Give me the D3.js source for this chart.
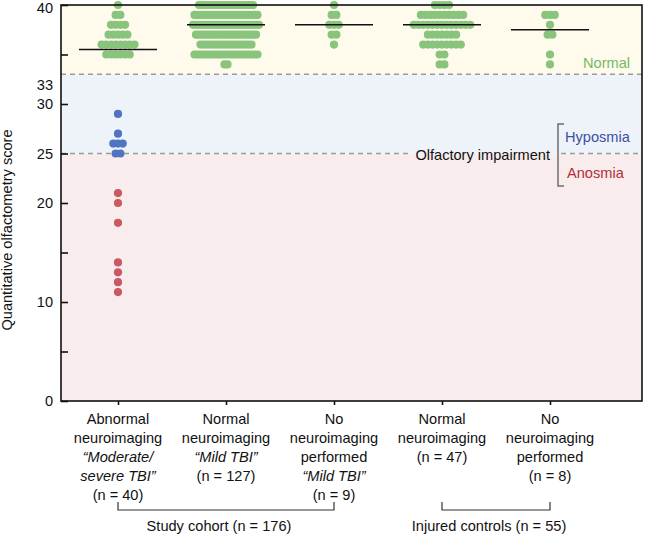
<!DOCTYPE html>
<html>
<head>
<meta charset="utf-8">
<script src="https://cdn.jsdelivr.net/npm/d3@7"></script>
<style>
  html, body { margin: 0; padding: 0; background: #ffffff; }
  svg { display: block; }
  text { font-family: "Liberation Sans", Arial, Helvetica, sans-serif; }
</style>
</head>
<body>
<svg id="chart" width="650" height="534"></svg>
<script>
// ---------------- data ----------------
const categories = ["abnormal", "normalMild", "noImagingMild", "controlsNormal", "controlsNoImaging"];

// [score, number of patients with that score]
const abnormalImaging   = [[40,1],[39,2],[38,4],[37,5],[36,8],[35,6],[29,1],[27,1],[26,3],[25,2],[21,1],[20,1],[18,1],[14,1],[13,1],[12,1],[11,1]];
const normalImagingMild = [[40,19],[39,22],[38,23],[37,21],[36,18],[35,22],[34,2]];
const noImagingMild     = [[40,1],[39,2],[38,3],[37,2],[36,1]];
const controlsNormal    = [[40,4],[39,10],[38,13],[37,7],[36,9],[35,2],[34,2]];
const controlsNoImaging = [[39,3],[38,1],[37,2],[35,1],[34,1]];
const groupData = [abnormalImaging, normalImagingMild, noImagingMild, controlsNormal, controlsNoImaging];

const categoryLabels = [
  ["Abnormal", "neuroimaging", "\u201cModerate/", "severe TBI\u201d", "(n = 40)"],
  ["Normal", "neuroimaging", "\u201cMild TBI\u201d", "(n = 127)"],
  ["No", "neuroimaging", "performed", "\u201cMild TBI\u201d", "(n = 9)"],
  ["Normal", "neuroimaging", "(n = 47)"],
  ["No", "neuroimaging", "performed", "(n = 8)"]
];

const cohortGroups = [
  { label: "Study cohort (n = 176)", from: "abnormal", to: "noImagingMild" },
  { label: "Injured controls (n = 55)", from: "controlsNormal", to: "controlsNoImaging" }
];

const yTickValues = [0, 5, 10, 15, 20, 25, 30, 35, 40];
const yTickLabels = [0, 10, 20, 25, 30, 40];
const normalCutoff = 33;
const anosmiaCutoff = 25;
const yMax = 40;

// ---------------- layout ----------------
const W = 650, H = 534;
const plot = { left: 61, right: 642, top: 5, bottom: 401 };
const FONT = 14.6;

const svg = d3.select("#chart");

const y = d3.scaleLinear().domain([0, yMax]).range([plot.bottom, plot.top]);
const x = d3.scalePoint().domain(categories).range([plot.left + 57, plot.left + 57 + 432]);

// background zones
const zones = [
  { lo: normalCutoff, hi: yMax, fill: "#fefbec" },
  { lo: anosmiaCutoff, hi: normalCutoff, fill: "#eef3fa" },
  { lo: 0, hi: anosmiaCutoff, fill: "#f8ecec" }
];
svg.append("g").selectAll("rect").data(zones).join("rect")
  .attr("x", plot.left).attr("width", plot.right - plot.left)
  .attr("y", d => y(d.hi)).attr("height", d => y(d.lo) - y(d.hi))
  .attr("fill", d => d.fill);

// dashed threshold lines
const dashStyle = sel => sel.attr("stroke", "#9b9b9b").attr("stroke-width", 1.6).attr("stroke-dasharray", "5,4").attr("fill", "none");
svg.append("line").attr("x1", plot.left).attr("x2", plot.right)
  .attr("y1", y(normalCutoff)).attr("y2", y(normalCutoff)).call(dashStyle);
svg.append("line").attr("x1", plot.left).attr("x2", 410)
  .attr("y1", y(anosmiaCutoff)).attr("y2", y(anosmiaCutoff)).call(dashStyle);
svg.append("line").attr("x1", 561).attr("x2", plot.right)
  .attr("y1", y(anosmiaCutoff)).attr("y2", y(anosmiaCutoff)).call(dashStyle);

// annotations on the right
svg.append("text").attr("x", 583).attr("y", 68).attr("font-size", FONT)
  .attr("fill", "#74b964").text("Normal");
svg.append("text").attr("x", 550).attr("y", y(anosmiaCutoff) + 6.5).attr("font-size", FONT)
  .attr("text-anchor", "end").attr("fill", "#111").text("Olfactory impairment");
svg.append("text").attr("x", 565).attr("y", 141.5).attr("font-size", FONT)
  .attr("fill", "#3d4fa3").text("Hyposmia");
svg.append("text").attr("x", 567).attr("y", 178).attr("font-size", FONT)
  .attr("fill", "#b52d38").text("Anosmia");
svg.append("path")
  .attr("d", "M564,124 H558 V186 H564")
  .attr("fill", "none").attr("stroke", "#6e6e6e").attr("stroke-width", 1.5);

// dots
function dotColor(score) {
  if (score >= normalCutoff) return "#88c47b";
  if (score >= anosmiaCutoff) return "#4f74c1";
  return "#c95a63";
}
const dots = [];
groupData.forEach((rows, gi) => {
  const maxCount = d3.max(rows, r => r[1]);
  const spacing = Math.min(4.7, 66 / Math.max(1, maxCount - 1));
  rows.forEach(([score, count]) => {
    for (let i = 0; i < count; i++) {
      dots.push({ cat: categories[gi], score, off: (i - (count - 1) / 2) * spacing });
    }
  });
});
svg.append("g").selectAll("circle").data(dots).join("circle")
  .attr("cx", d => x(d.cat) + d.off)
  .attr("cy", d => y(d.score))
  .attr("r", 4.1)
  .attr("fill", d => dotColor(d.score));

// median lines
const medians = groupData.map((rows, gi) => {
  const vals = [];
  rows.forEach(([s, c]) => { for (let i = 0; i < c; i++) vals.push(s); });
  return { cat: categories[gi], m: d3.median(vals) };
});
svg.append("g").selectAll("line").data(medians).join("line")
  .attr("x1", d => x(d.cat) - 39).attr("x2", d => x(d.cat) + 39)
  .attr("y1", d => y(d.m)).attr("y2", d => y(d.m))
  .attr("stroke", "#111").attr("stroke-width", 1.6);

// frame
svg.append("rect").attr("x", plot.left).attr("y", plot.top)
  .attr("width", plot.right - plot.left).attr("height", plot.bottom - plot.top)
  .attr("fill", "none").attr("stroke", "#111").attr("stroke-width", 1.6);

// y axis
const yAxis = d3.axisLeft(y).tickValues(yTickValues).tickSize(-7).tickPadding(8)
  .tickFormat(d => yTickLabels.includes(d) ? d : "");
const gy = svg.append("g").attr("transform", `translate(${plot.left},0)`).call(yAxis);
gy.select(".domain").remove();
gy.selectAll(".tick line").attr("stroke", "#111").attr("stroke-width", 1.6);
gy.selectAll(".tick text").attr("font-size", FONT).attr("fill", "#111")
  .attr("font-family", "'Liberation Sans', Arial, sans-serif")
  .attr("dy", d => d === yMax ? "0.5em" : "0.32em");
gy.append("text").attr("x", -8).attr("y", y(normalCutoff) + 11).attr("dy", "0.32em")
  .attr("text-anchor", "end").attr("font-size", FONT).attr("fill", "#111")
  .attr("font-family", "'Liberation Sans', Arial, sans-serif").text(normalCutoff);

svg.append("text")
  .attr("transform", `translate(11.5,${(plot.top + plot.bottom) / 2 + 27}) rotate(-90)`)
  .attr("text-anchor", "middle").attr("font-size", FONT).attr("fill", "#111")
  .text("Quantitative olfactometry score");

// x axis
const xAxis = d3.axisBottom(x).tickSize(4).tickFormat("");
const gx = svg.append("g").attr("transform", `translate(0,${plot.bottom})`).call(xAxis);
gx.select(".domain").remove();
gx.selectAll(".tick line").attr("stroke", "#111").attr("stroke-width", 1.6);

// category labels
const lab = svg.append("g");
categories.forEach((c, i) => {
  const t = lab.append("text").attr("text-anchor", "middle").attr("font-size", FONT).attr("fill", "#111");
  categoryLabels[i].forEach((line, li) => {
    t.append("tspan").attr("x", x(c)).attr("y", 423.5 + li * 19)
      .attr("font-style", /[\u201c\u201d]/.test(line) ? "italic" : "normal")
      .text(line);
  });
});

// cohort brackets
cohortGroups.forEach(g => {
  const x1 = x(g.from), x2 = x(g.to);
  svg.append("path").attr("d", `M${x1},502 V510 H${x2} V502`)
    .attr("fill", "none").attr("stroke", "#333").attr("stroke-width", 1.2);
  svg.append("text").attr("x", (x1 + x2) / 2 - 7).attr("y", 530.5)
    .attr("text-anchor", "middle").attr("font-size", FONT).attr("fill", "#111")
    .text(g.label);
});
</script>
</body>
</html>
